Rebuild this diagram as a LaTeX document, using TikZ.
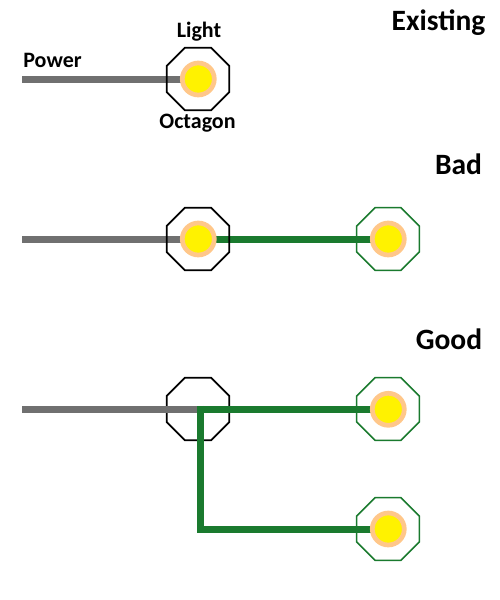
\documentclass[tikz,border=0pt]{standalone}
\usepackage{fontspec}
\setmainfont{Carlito}
\usetikzlibrary{shapes.geometric}
\definecolor{wirered}{HTML}{707070}
\definecolor{wgreen}{HTML}{1A7A2E}
\definecolor{ring}{HTML}{FFC78A}
\tikzset{
  x=1pt,y=-1pt,
  octa/.style={regular polygon,regular polygon sides=8,minimum size=67.8pt,inner sep=0pt,outer sep=0pt,draw=#1},
  octblack/.style={octa=black,line width=1.8pt},
  octgreen/.style={octa=wgreen,line width=1.5pt},
  lamp/.style={circle,minimum size=32pt,inner sep=0pt,outer sep=0pt,fill=yellow,draw=ring,line width=4.7pt},
  pwire/.style={draw=wirered,line width=7pt},
  gwire/.style={draw=wgreen,line width=7pt},
  lab/.style={font=\bfseries\fontsize{22}{25}\selectfont,inner sep=0pt,text=black},
  head/.style={font=\bfseries\fontsize{29.5}{34}\selectfont,inner sep=0pt,text=black},
}
\begin{document}
\begin{tikzpicture}
\useasboundingbox (0,0) rectangle (500,600);
% row 1
\coordinate (s1) at (22,79);
\coordinate (c1) at (198.3,79);
\draw[pwire] (s1) -- (c1);
\node[octblack] (o1) at (198,79) {};
\node[lamp] (l1) at (c1) {};
\node[lab] (tpower) at (52.5,60.5) {Power};
\node[lab] (tlight) at (199,32) {Light};
\node[lab] (tocta) at (197.5,123) {Octagon};
\node[head] (texist) at (438.5,23) {Existing};
% row 2
\coordinate (s2) at (22,239);
\coordinate (c2) at (198.3,239);
\coordinate (c2g) at (388.3,239);
\draw[pwire] (s2) -- (c2);
\draw[gwire] (c2) -- (c2g);
\node[octblack] (o2) at (198,239) {};
\node[lamp] (l2) at (c2) {};
\node[octgreen] (o3) at (388,239) {};
\node[lamp] (l3) at (c2g) {};
\node[head] (tbad) at (458.5,164) {Bad};
% row 3
\coordinate (s3) at (22,409.3);
\coordinate (j3) at (197.3,409.3);
\coordinate (t3) at (200.7,405.8);
\coordinate (e3) at (200.7,532.5);
\coordinate (b3) at (197.2,529);
\coordinate (c5) at (388.3,409.3);
\coordinate (c6) at (388.3,529);
\node[octblack] (o4) at (198,409) {};
\draw[pwire] (s3) -- (j3);
\draw[gwire] (j3) -- (c5);
\draw[gwire] (t3) -- (e3);
\draw[gwire] (b3) -- (c6);
\node[octgreen] (o5) at (388,409) {};
\node[lamp] (l5) at (c5) {};
\node[octgreen] (o6) at (388,529) {};
\node[lamp] (l6) at (c6) {};
\node[head] (tgood) at (449,339) {Good};
\end{tikzpicture}
\end{document}
